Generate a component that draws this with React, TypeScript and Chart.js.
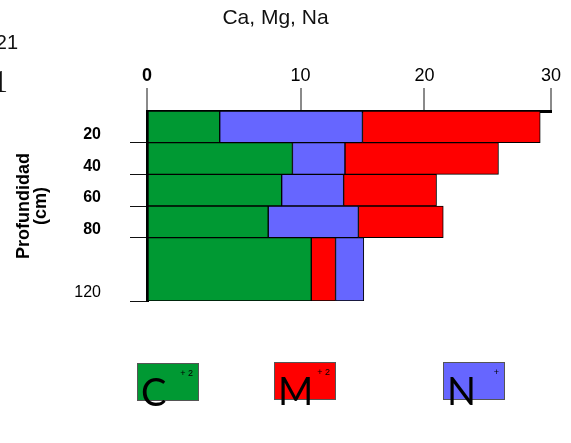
import React, { useEffect, useRef } from 'react';
import { Chart, registerables } from 'chart.js';

Chart.register(...registerables);

// ---- data ----
const titleText = 'Ca, Mg, Na';
const rowTop = [0, 20, 40, 60, 80];
const rowBottom = [20, 40, 60, 80, 120];
const depthTicks = [20, 40, 60, 80, 120];
const ca = [5.4, 10.8, 10.0, 9.0, 12.2];
const mg = [13.2, 11.4, 6.9, 6.3, 1.8];
const na = [10.6, 3.9, 4.6, 6.7, 2.1];
const naAfterMg = [false, false, false, false, true];
const xTickPositions = [0, 11.4, 20.6, 30];
const xTickLabels = ['0', '10', '20', '30'];
const legendLetters = ['C', 'M', 'N'];
const legendCharges = ['+ 2', '+ 2', '+'];
const yTitle = ['Profundidad', '(cm)'];

const GREEN = '#009933';
const RED = '#FF0000';
const BLUE = '#6666FF';

// index positions so that each flex bar spans exactly [rowTop, rowBottom]
const slotPositions: number[] = [];
{
  let p = (rowTop[0] + rowBottom[0]) / 2;
  for (let i = 0; i < rowBottom.length; i++) {
    slotPositions.push(p);
    p = 2 * rowBottom[i] - p;
  }
  slotPositions.push(p); // closing slot for the last interval (no bar)
}

const toPoints = (vals: (number | null)[]) =>
  slotPositions.map((y, i) => ({ y, x: i < vals.length ? vals[i] : null }));

const barCommon = {
  borderColor: '#000',
  borderWidth: 1,
  borderSkipped: false as const,
  barThickness: 'flex' as const,
  barPercentage: 1,
  categoryPercentage: 1,
};

const legendPlugin = {
  id: 'ionLegend',
  afterDraw(chart: any) {
    const ctx = chart.ctx;
    const boxes = [
      { x: 137, y: 363 },
      { x: 274, y: 362 },
      { x: 443, y: 362 },
    ];
    const colors = [GREEN, RED, BLUE];
    ctx.save();
    boxes.forEach((b, i) => {
      const w = 62, h = 38;
      ctx.fillStyle = colors[i];
      ctx.fillRect(b.x, b.y, w, h);
      ctx.strokeStyle = '#555';
      ctx.lineWidth = 1;
      ctx.strokeRect(b.x + 0.5, b.y + 0.5, w - 1, h - 1);
      ctx.fillStyle = '#000';
      ctx.font = '400 38px Lato, "Open Sans", "Liberation Sans", sans-serif';
      ctx.textAlign = 'left';
      ctx.textBaseline = 'alphabetic';
      ctx.fillText(legendLetters[i], b.x + 4, b.y + 43);
      ctx.font = '9px "Liberation Sans", Arial, sans-serif';
      ctx.textAlign = 'right';
      ctx.fillText(legendCharges[i], b.x + w - 6, b.y + 13);
    });
    // cut-off fragments at the top-left edge
    ctx.fillStyle = '#111';
    ctx.textAlign = 'right';
    ctx.font = '20px "Liberation Sans", Arial, sans-serif';
    ctx.fillText('21', 18, 49);
    ctx.font = '32px "Liberation Serif", serif';
    ctx.textAlign = 'center';
    ctx.fillText('1', 0, 92);
    ctx.restore();
  },
};

export default function App() {
  const ref = useRef<HTMLCanvasElement | null>(null);
  useEffect(() => {
    document.body.style.margin = '0';
    const canvas = ref.current;
    if (!canvas) return;
    const chart = new Chart(canvas, {
      type: 'bar',
      data: {
        datasets: [
          { label: 'Ca', data: toPoints(ca), backgroundColor: GREEN, ...barCommon },
          { label: 'Na', data: toPoints(na.map((v, i) => (naAfterMg[i] ? null : v))), backgroundColor: BLUE, ...barCommon },
          { label: 'Mg', data: toPoints(mg), backgroundColor: RED, ...barCommon },
          { label: 'Na ', data: toPoints(na.map((v, i) => (naAfterMg[i] ? v : null))), backgroundColor: BLUE, ...barCommon },
        ] as any,
      },
      options: {
        indexAxis: 'y',
        animation: false,
        responsive: false,
        maintainAspectRatio: false,
        layout: { padding: { left: 0, right: 20, top: 0, bottom: 142 } },
        font: { family: '"Liberation Sans", Arial, sans-serif' } as any,
        plugins: {
          legend: { display: false },
          tooltip: { enabled: false },
          title: {
            display: true,
            text: titleText,
            color: '#111',
            font: { size: 21, weight: 'normal', lineHeight: 1.2, family: '"Liberation Sans", Arial, sans-serif' },
            padding: { top: 5.4, bottom: 7.4 },
          },
        },
        scales: {
          x: {
            type: 'linear',
            position: 'top',
            stacked: true,
            min: 0,
            max: 30,
            offset: false,
            afterFit: (s: any) => { s.height = 73; },
            afterBuildTicks: (s: any) => { s.ticks = xTickPositions.map((v) => ({ value: v })); },
            ticks: {
              color: '#000',
              padding: 1,
              autoSkip: false,
              maxRotation: 0,
              font: (c: any) => ({ size: 18, family: '"Liberation Sans", Arial, sans-serif', weight: c.index === 0 ? 'bold' : 'normal' }),
              callback: (_v: any, i: number) => xTickLabels[i],
            },
            grid: { drawOnChartArea: false, drawTicks: true, tickLength: 23, color: '#8a8a8a', lineWidth: 2, offset: false },
            border: { display: true, color: '#000', width: 3 },
          },
          y: {
            type: 'linear',
            reverse: true,
            stacked: true,
            min: 0,
            max: 120,
            offset: false,
            afterFit: (s: any) => { s.width = 147; },
            afterBuildTicks: (s: any) => { s.ticks = depthTicks.map((v) => ({ value: v })); },
            ticks: {
              color: '#000',
              padding: 29,
              labelOffset: -8,
              autoSkip: false,
              font: (c: any) => ({ size: 16, family: '"Liberation Sans", Arial, sans-serif', weight: c.tick && c.tick.value === 120 ? 'normal' : 'bold' }),
              callback: (v: any) => String(v),
            },
            grid: { drawOnChartArea: false, drawTicks: true, tickLength: 17, color: '#111', lineWidth: 1, offset: false },
            border: { display: true, color: '#000', width: 3 },
            title: {
              display: true,
              text: yTitle,
              color: '#000',
              font: { size: 18, weight: 'bold', lineHeight: 0.95, family: '"Liberation Sans", Arial, sans-serif' },
              padding: { top: 15.5, bottom: 0 },
            },
          },
        },
      } as any,
      plugins: [legendPlugin],
    });
    return () => chart.destroy();
  }, []);
  return (
    <div style={{ width: 571, height: 443 }}>
      <canvas ref={ref} width={571} height={443} style={{ display: 'block' }} />
    </div>
  );
}
